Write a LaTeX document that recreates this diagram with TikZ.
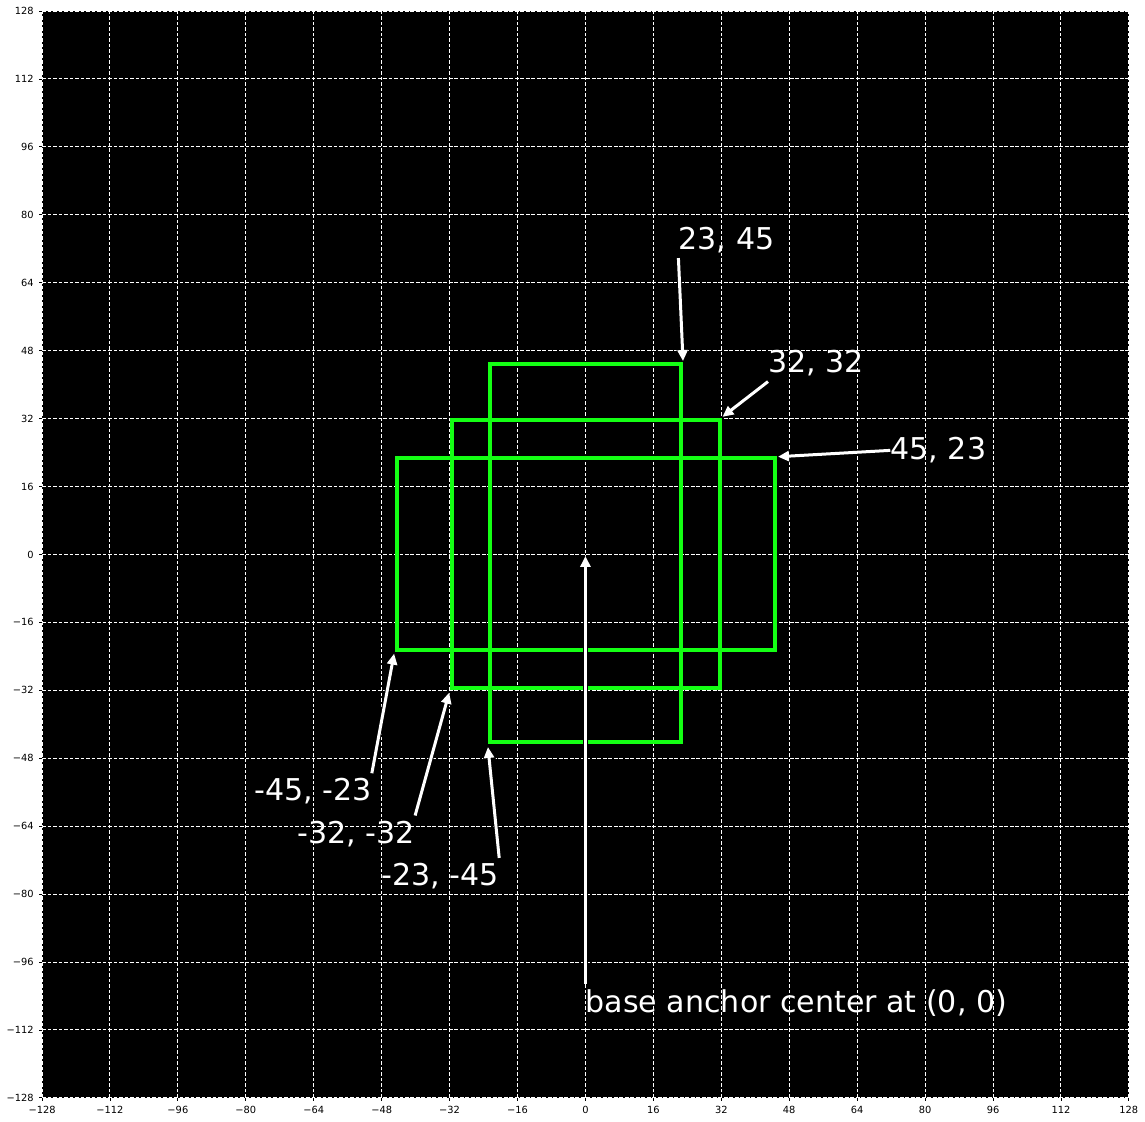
\documentclass[tikz,border=0pt]{standalone}
\usepackage{fontspec}
\setmainfont{DejaVu Sans}
\usetikzlibrary{arrows.meta}

\definecolor{boxgreen}{RGB}{20,255,20}

\tikzset{
  gridline/.style={white, line width=0.02cm, dash pattern=on 0.075cm off 0.035cm},
  boxline/.style={draw=boxgreen, line width=0.08cm},
  pointer/.style={white, line width=0.06cm, shorten >=0.03cm,
    -{Triangle[length=0.22cm,width=0.2cm]},
    preaction={draw=black, line width=0.1cm, -{Triangle[length=0.25cm,width=0.25cm]}}},
  lbl/.style={white, inner xsep=0pt, inner ysep=0.1cm, anchor=base west,
    font=\fontsize{17.1}{20}\selectfont},
  ticklbl/.style={black, inner sep=0pt, font=\fontsize{5.6}{6.5}\selectfont},
}

\begin{document}
\begin{tikzpicture}[x=0.08492cm, y=0.08492cm]

%% Page and plot area
\fill[white] (-137.9,-133.65) rectangle (131.8,130.6);
\useasboundingbox (-137.9,-133.65) rectangle (131.8,130.6);
\fill[black] (-128,-128) rectangle (128,128);

%% Grid
\foreach \v in {-128,-112,...,128}{
  \draw[gridline] (\v,-128) -- (\v,128);
  \draw[gridline] (-128,\v) -- (128,\v);
}

%% Ticks and tick labels
\foreach \v in {-128,-112,...,128}{
  \draw[black, line width=0.016cm] (\v,-128) -- ++(0,-0.07cm);
  \draw[black, line width=0.016cm] (-128,\v) -- ++(-0.07cm,0);
  \node[ticklbl, anchor=north, yshift=-0.15cm] (xt\v) at (\v,-128)
    {\ifnum\v<0 −\number\numexpr-\v\relax\else\v\fi};
  \node[ticklbl, anchor=east, xshift=-0.16cm] (yt\v) at (-128,\v)
    {\ifnum\v<0 −\number\numexpr-\v\relax\else\v\fi};
}

%% Boxes
\draw[boxline] (-44.5,-22.4) rectangle (44.6,22.8);
\draw[boxline] (-31.5,-31.4) rectangle (31.7,31.7);
\draw[boxline] (-22.5,-44.2) rectangle (22.6,44.8);

%% Corner points
\coordinate (c2345) at (23,45.2);
\coordinate (c3232) at (32,32.2);
\coordinate (c4523) at (45,23);
\coordinate (cm4523) at (-45,-23);
\coordinate (cm3232) at (-32,-32.2);
\coordinate (cm2345) at (-23,-45);
\coordinate (corigin) at (0,0);

%% Labels
\node[lbl] (l2345) at (21.9,71.9) {23, 45};
\node[lbl] (l3232) at (43.0,42.8) {32, 32};
\node[lbl] (l4523) at (71.8,22.3) {45, 23};
\node[lbl] (lm4523) at (-78.1,-58.05) {-45, -23};
\node[lbl] (lm3232) at (-67.9,-68.0) {-32, -32};
\node[lbl] (lm2345) at (-48.1,-78.0) {-23, -45};
\node[lbl] (lbase) at (0,-107.8) {base anchor center at (0, 0)};

%% Pointers
\draw[pointer] (l2345.south west) -- (c2345);
\draw[pointer] (l3232.south west) -- (c3232);
\draw[pointer] (l4523.west) -- (c4523);
\draw[pointer] (lm4523.north east) -- (cm4523);
\draw[pointer] (lm3232.north east) -- (cm3232);
\draw[pointer] (lm2345.north east) -- (cm2345);
\draw[pointer] (lbase.north west) -- (corigin);

\end{tikzpicture}
\end{document}
